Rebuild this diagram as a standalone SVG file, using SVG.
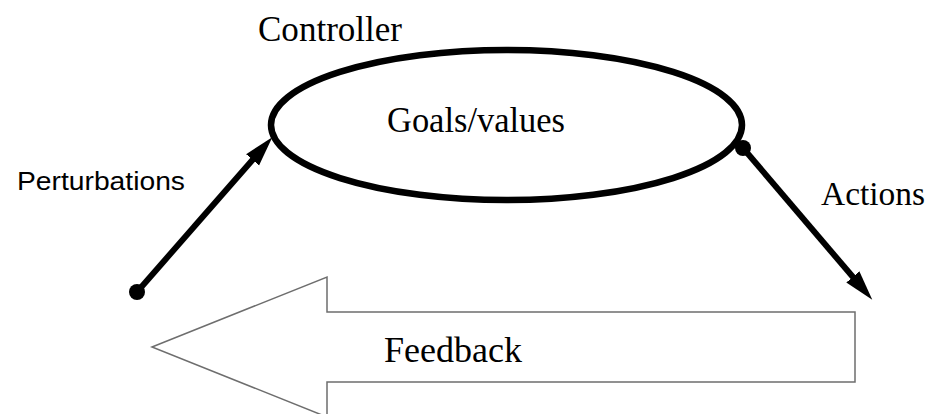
<svg xmlns="http://www.w3.org/2000/svg" width="935" height="414" viewBox="0 0 935 414">
<style>
.serif{font-family:"Liberation Serif","Times New Roman",serif;fill:#000;}
.sans{font-family:"Liberation Sans",Arial,sans-serif;fill:#000;}
.conn{stroke:#000;stroke-width:6;fill:none;}
</style>
<defs>
<marker id="head" markerUnits="userSpaceOnUse" markerWidth="30" markerHeight="18" viewBox="0 0 28 16" refX="6" refY="8" orient="auto">
<path d="M0,0 L28,8 L0,16 z" fill="#000"/>
</marker>
</defs>
<rect width="935" height="414" fill="#fff"/>
<g id="feedback">
<polygon points="152,347 327,277 327,312 855,312 855,382 327,382 327,417" fill="#fff" stroke="#6e6e6e" stroke-width="1.5"/>
<text class="serif" x="384" y="362" font-size="35" textLength="138" lengthAdjust="spacingAndGlyphs">Feedback</text>
</g>
<g id="controller">
<ellipse cx="506.5" cy="125" rx="235.5" ry="75" fill="#fff" stroke="#000" stroke-width="6.5"/>
<text class="serif" x="258" y="41" font-size="35" textLength="144" lengthAdjust="spacingAndGlyphs">Controller</text>
<text class="serif" x="387" y="132" font-size="35" textLength="178" lengthAdjust="spacingAndGlyphs">Goals/values</text>
</g>
<g id="perturbations">
<text class="sans" x="17" y="190" font-size="26" textLength="168" lengthAdjust="spacingAndGlyphs">Perturbations</text>
</g>
<g id="actions">
<text class="serif" x="821" y="205" font-size="34" textLength="104" lengthAdjust="spacingAndGlyphs">Actions</text>
</g>
<g id="connectors">
<circle cx="137" cy="292" r="8" fill="#000"/>
<line class="conn" x1="137" y1="292" x2="256.8" y2="155" marker-end="url(#head)"/>
<circle cx="743" cy="148" r="8" fill="#000"/>
<line class="conn" x1="743" y1="148" x2="857" y2="281.8" marker-end="url(#head)"/>
</g>
</svg>
